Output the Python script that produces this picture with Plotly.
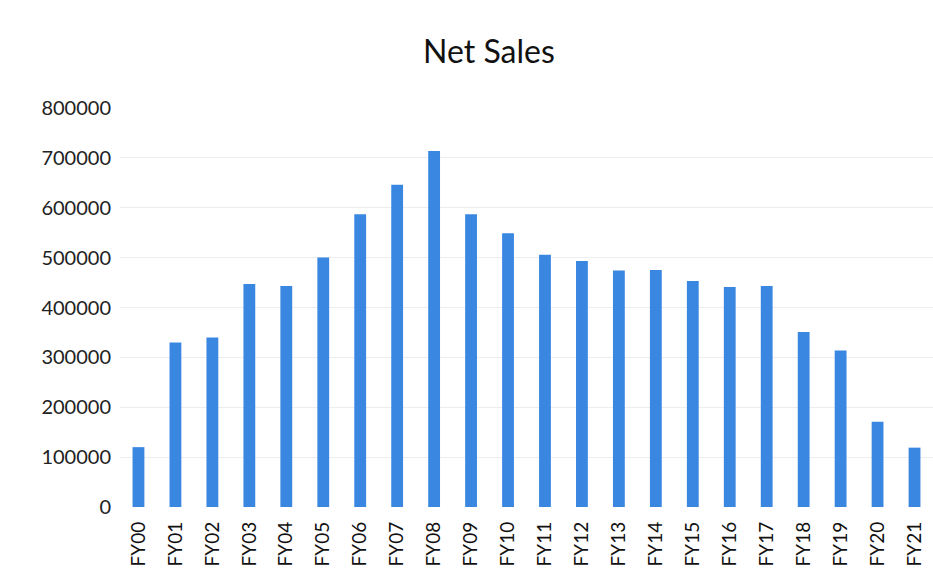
import plotly.graph_objects as go

# Fiscal years and net sales figures
years = ["FY00", "FY01", "FY02", "FY03", "FY04", "FY05", "FY06", "FY07",
         "FY08", "FY09", "FY10", "FY11", "FY12", "FY13", "FY14", "FY15",
         "FY16", "FY17", "FY18", "FY19", "FY20", "FY21"]
net_sales = [120000, 330000, 340000, 447000, 443000, 500000, 587000, 646000,
             714000, 587000, 549000, 506000, 493000, 474000, 475000, 453000,
             441000, 443000, 351000, 314000, 171000, 119000]
y_ticks = [0, 100000, 200000, 300000, 400000, 500000, 600000, 700000, 800000]

font_family = "Lato, Open Sans, sans-serif"

fig = go.Figure(
    go.Bar(
        x=years,
        y=net_sales,
        marker=dict(color="#3a87e2", line=dict(width=0)),
    )
)

fig.update_layout(
    width=933,
    height=584,
    margin=dict(l=120, r=0, t=108, b=77),
    paper_bgcolor="white",
    plot_bgcolor="white",
    bargap=0.68,
    showlegend=False,
    font=dict(family=font_family, color="#222222"),
    title=dict(
        text="Net Sales",
        x=0.524,
        xanchor="center",
        y=0.912,
        yanchor="middle",
        font=dict(family=font_family, size=32, color="#111111"),
    ),
    xaxis=dict(
        type="category",
        tickangle=-90,
        tickfont=dict(size=19, color="#111111"),
        showgrid=False,
        showline=False,
        ticks="",
        ticklabelstandoff=10,
        automargin=False,
        range=[-0.5, len(years) - 0.5],
    ),
    yaxis=dict(
        range=[0, 800000],
        tickvals=y_ticks,
        ticktext=[str(v) for v in y_ticks],
        tickfont=dict(size=20, color="#222222"),
        showgrid=True,
        gridcolor="#ededed",
        gridwidth=1,
        zeroline=False,
        showline=False,
        ticks="",
        ticklabelstandoff=8,
        automargin=False,
    ),
)

fig.write_html("out.html")
